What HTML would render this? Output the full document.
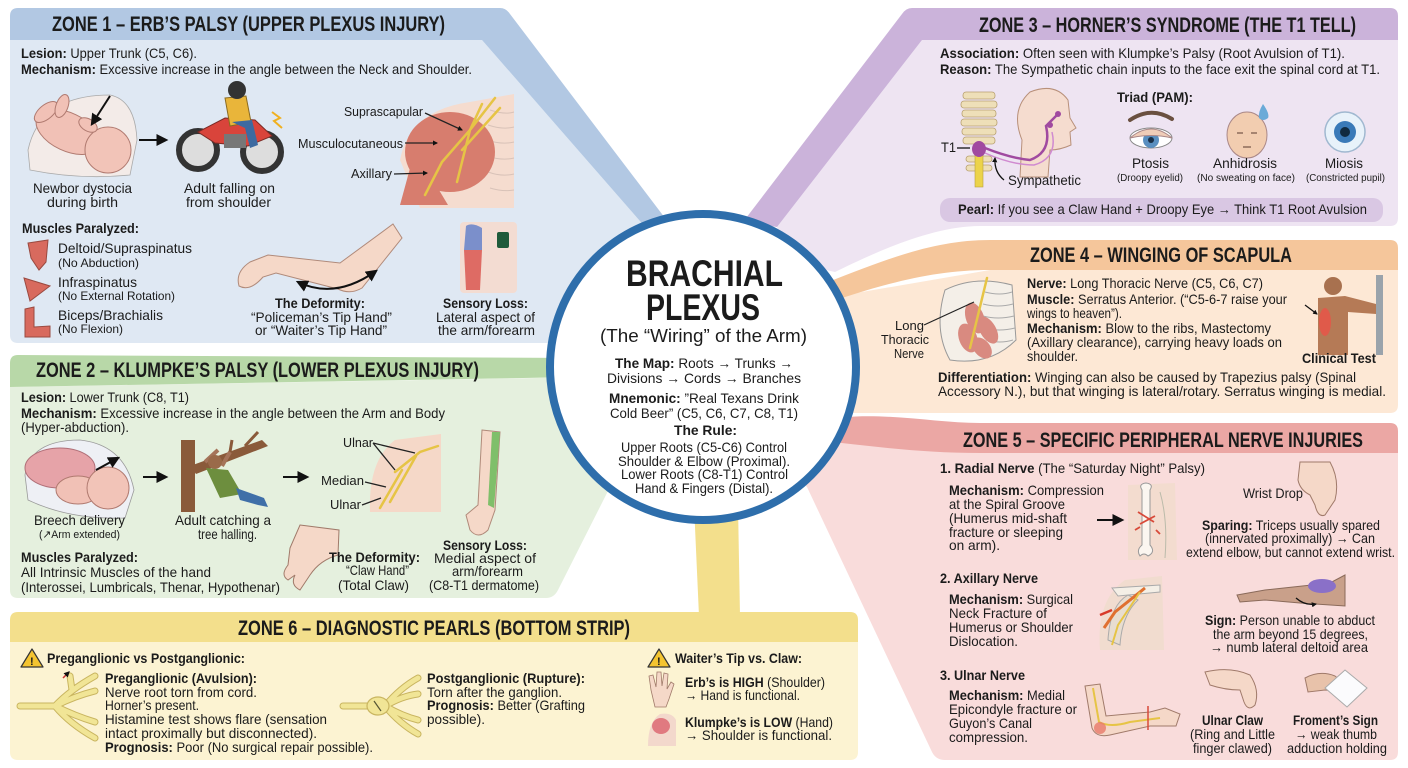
<!DOCTYPE html>
<html><head><meta charset="utf-8"><style>
html,body{margin:0;padding:0;background:#fff;}
svg{display:block}
text{font-family:"Liberation Sans",Arial,sans-serif;fill:#1b1b1b;}
.h{font-size:21px;font-weight:700}
.b{font-size:14px}
.m{font-size:13px}
.s{font-size:12px}
.xs{font-size:10px}
.bd{font-weight:700}
.nv{fill:none;stroke:#e6c445;stroke-width:2.5;stroke-linecap:round}
.ln{fill:none;stroke:#222;stroke-width:1.3}
</style></head><body>
<svg width="1408" height="768" viewBox="0 0 1408 768" xmlns="http://www.w3.org/2000/svg">
<defs>
<marker id="ah" viewBox="0 0 10 10" refX="8" refY="5" markerWidth="6" markerHeight="6" orient="auto-start-reverse"><path d="M0,0 L10,5 L0,10 Z" fill="#111"/></marker>
<marker id="ahs" viewBox="0 0 10 10" refX="8" refY="5" markerWidth="4" markerHeight="4" orient="auto-start-reverse"><path d="M0,0 L10,5 L0,10 Z" fill="#111"/></marker>
</defs>
<rect width="1408" height="768" fill="#fff"/>

<!-- ZONE 1 background -->
<path d="M10,40 L482,40 L646,228 L600,262 L548,343 L18,343 Q10,343 10,335 Z" fill="#dfe8f3"/>
<path d="M18,8 L500,8 Q506,8 510,14 L668,222 L646,228 L482,40 L10,40 L10,16 Q10,8 18,8 Z" fill="#b2c8e3"/>

<!-- ZONE 2 background -->
<path d="M10,387 L600,377 L620,470 L607,493 L558,590 Q554,598 546,598 L18,598 Q10,598 10,590 Z" fill="#e5f0de"/>
<path d="M10,363 Q10,355 18,355 L580,358 L580,377 L10,387 Z" fill="#b8d8a8"/>

<!-- ZONE 3 background -->
<path d="M922,40 L1398,40 L1398,218 Q1398,226 1390,226 L980,226 C930,226 870,255 835,272 L790,262 L777,227 Z" fill="#eee4f2"/>
<path d="M912,8 L1390,8 Q1398,8 1398,16 L1398,40 L922,40 L777,227 L743,222 L902,14 Q906,8 912,8 Z" fill="#cbb3da"/>

<!-- ZONE 4 background -->
<path d="M815,300 L990,270 L1398,270 L1398,405 Q1398,413 1390,413 L850,413 L815,380 Z" fill="#fde8d5"/>
<path d="M815,287 C880,262 930,240 990,240 L1390,240 Q1398,240 1398,248 L1398,270 L990,270 C930,270 880,285 815,307 Z" fill="#f5c69b"/>

<!-- ZONE 5 background -->
<path d="M815,440 L980,453 L1398,453 L1398,752 Q1398,760 1390,760 L945,760 Q936,760 932,752 L807,487 L790,470 Z" fill="#f9dcdb"/>
<path d="M820,420 C880,410 930,423 980,423 L1390,423 Q1398,423 1398,431 L1398,453 L980,453 C920,453 870,446 815,440 Z" fill="#eba7a4"/>

<!-- yellow connector -->
<path d="M694,505 L738,505 L740,616 L699,616 Z" fill="#f3df8c"/>

<!-- ZONE 6 background -->
<path d="M10,642 L858,642 L858,752 Q858,760 850,760 L18,760 Q10,760 10,752 Z" fill="#fcf3d2"/>
<path d="M18,612 L850,612 Q858,612 858,620 L858,642 L10,642 L10,620 Q10,612 18,612 Z" fill="#f3df8c"/>

<!-- center circle -->
<circle cx="703" cy="367" r="153" fill="#fff" stroke="#2e6eab" stroke-width="8"/>

<!-- ============ ZONE 1 content ============ -->
<text class="h" x="52" y="31" textLength="393" lengthAdjust="spacingAndGlyphs">ZONE 1 – ERB’S PALSY (UPPER PLEXUS INJURY)</text>
<text class="b" x="21" y="58" textLength="176" lengthAdjust="spacingAndGlyphs"><tspan class="bd">Lesion:</tspan> Upper Trunk (C5, C6).</text>
<text class="b" x="21" y="74" textLength="451" lengthAdjust="spacingAndGlyphs"><tspan class="bd">Mechanism:</tspan> Excessive increase in the angle between the Neck and Shoulder.</text>

<!-- baby -->
<path d="M28,150 Q40,95 110,95 Q135,100 137,140 L130,175 Q80,180 30,170 Z" fill="#f3ebe8" stroke="#aaa" stroke-width="0.8"/>
<ellipse cx="68" cy="132" rx="34" ry="19" transform="rotate(25 68 132)" fill="#f1c1b6" stroke="#b07a70"/>
<ellipse cx="46" cy="112" rx="14" ry="7" transform="rotate(-40 46 112)" fill="#f1c1b6" stroke="#b07a70"/>
<ellipse cx="62" cy="106" rx="12" ry="6" transform="rotate(-70 62 106)" fill="#f1c1b6" stroke="#b07a70"/>
<circle cx="108" cy="150" r="23" fill="#f2c4b8" stroke="#b07a70"/>
<ellipse cx="88" cy="125" rx="10" ry="6" transform="rotate(30 88 125)" fill="#f1c1b6" stroke="#b07a70"/>
<line x1="110" y1="96" x2="92" y2="124" stroke="#111" stroke-width="2" marker-end="url(#ah)"/>
<line x1="139" y1="140" x2="166" y2="140" stroke="#111" stroke-width="2" marker-end="url(#ah)"/>
<!-- motorcycle -->
<circle cx="198" cy="150" r="19" fill="#ddd" stroke="#333" stroke-width="6"/>
<circle cx="262" cy="152" r="19" fill="#ddd" stroke="#333" stroke-width="6"/>
<path d="M198,132 L225,118 L255,120 L272,136 L248,146 L215,143 Z" fill="#d9443b" stroke="#7a2a25"/>
<rect x="224" y="134" width="22" height="14" fill="#777"/>
<path d="M225,98 L246,96 L251,122 L230,126 Z" fill="#e9b53a" stroke="#8a6a20"/>
<path d="M232,122 L252,120 L258,145 L250,148 L245,128 Z" fill="#3d6aa0"/>
<circle cx="237" cy="90" r="9" fill="#333"/>
<path d="M272,112 L280,118 L274,121 L282,128" fill="none" stroke="#f0b020" stroke-width="2"/>
<text class="b" x="33" y="193" textLength="99" lengthAdjust="spacingAndGlyphs">Newbor dystocia</text>
<text class="b" x="47" y="207" textLength="71" lengthAdjust="spacingAndGlyphs">during birth</text>
<text class="b" x="184" y="193" textLength="91" lengthAdjust="spacingAndGlyphs">Adult falling on</text>
<text class="b" x="186" y="207" textLength="85" lengthAdjust="spacingAndGlyphs">from shoulder</text>
<!-- shoulder anatomy -->
<path d="M420,208 L400,160 Q410,110 470,102 L514,94 L514,208 Z" fill="#f5dccf"/>
<path d="M490,110 Q505,115 514,112 M488,125 Q503,130 514,127 M487,140 Q502,145 514,142 M487,156 Q502,161 514,158 M488,172 Q502,177 514,174 M490,188 Q503,192 514,190" stroke="#d8c2b8" fill="none"/>
<ellipse cx="450" cy="152" rx="45" ry="40" fill="#d77d6e"/>
<path d="M400,205 L415,150 L448,205 Z" fill="#d77d6e"/>
<path class="nv" d="M495,98 L470,130 L442,162 L425,195 M500,108 L462,150 M470,130 L457,182 M482,104 L470,130"/>
<text class="m" x="344" y="116" textLength="79" lengthAdjust="spacingAndGlyphs">Suprascapular</text>
<text class="m" x="298" y="148" textLength="105" lengthAdjust="spacingAndGlyphs">Musculocutaneous</text>
<text class="m" x="351" y="178" textLength="41" lengthAdjust="spacingAndGlyphs">Axillary</text>
<line x1="425" y1="113" x2="462" y2="130" class="ln" marker-end="url(#ahs)"/>
<line x1="405" y1="143" x2="437" y2="143" class="ln" marker-end="url(#ahs)"/>
<line x1="394" y1="174" x2="427" y2="173" class="ln" marker-end="url(#ahs)"/>
<!-- muscles paralyzed -->
<text class="b bd" x="22" y="233" textLength="117" lengthAdjust="spacingAndGlyphs">Muscles Paralyzed:</text>
<path d="M28,243 L48,240 L46,262 L39,270 L31,258 Z" fill="#d86a5e" stroke="#9a4a40"/>
<path d="M24,278 L50,286 L30,301 Z" fill="#d86a5e" stroke="#9a4a40"/>
<path d="M25,309 L34,307 L34,327 L50,326 L50,337 L25,337 Z" fill="#d86a5e" stroke="#9a4a40"/>
<text class="b" x="58" y="253" textLength="134" lengthAdjust="spacingAndGlyphs">Deltoid/Supraspinatus</text>
<text class="s" x="58" y="267" textLength="81" lengthAdjust="spacingAndGlyphs">(No Abduction)</text>
<text class="b" x="58" y="287" textLength="79" lengthAdjust="spacingAndGlyphs">Infraspinatus</text>
<text class="s" x="58" y="300" textLength="117" lengthAdjust="spacingAndGlyphs">(No External Rotation)</text>
<text class="b" x="58" y="320" textLength="105" lengthAdjust="spacingAndGlyphs">Biceps/Brachialis</text>
<text class="s" x="58" y="333" textLength="65" lengthAdjust="spacingAndGlyphs">(No Flexion)</text>
<!-- arm deformity -->
<path d="M393,224 L402,238 L362,288 Q350,295 338,289 L276,273 L263,277 Q250,292 239,286 Q235,272 250,262 L268,255 L340,263 Z" fill="#f5d8c8" stroke="#b08a7a"/>
<path d="M298,282 Q335,300 376,271" fill="none" stroke="#111" stroke-width="2" marker-start="url(#ah)" marker-end="url(#ah)"/>
<text class="b bd" x="275" y="308" textLength="90" lengthAdjust="spacingAndGlyphs">The Deformity:</text>
<text class="b" x="251" y="322" textLength="141" lengthAdjust="spacingAndGlyphs">“Policeman’s Tip Hand”</text>
<text class="b" x="255" y="335" textLength="132" lengthAdjust="spacingAndGlyphs">or “Waiter’s Tip Hand”</text>
<!-- sensory -->
<rect x="460" y="222" width="57" height="71" rx="4" fill="#f3dcd2"/>
<path d="M466,226 Q472,222 482,228 L482,250 L464,250 Z" fill="#7b8fcb"/>
<path d="M464,250 L482,250 L480,290 L466,290 Z" fill="#de6b64"/>
<rect x="497" y="232" width="12" height="16" rx="2" fill="#1e5a3a"/>
<text class="b bd" x="443" y="308" textLength="85" lengthAdjust="spacingAndGlyphs">Sensory Loss:</text>
<text class="b" x="436" y="322" textLength="99" lengthAdjust="spacingAndGlyphs">Lateral aspect of</text>
<text class="b" x="438" y="335" textLength="97" lengthAdjust="spacingAndGlyphs">the arm/forearm</text>

<!-- ============ ZONE 2 content ============ -->
<text class="h" x="36" y="377" textLength="443" lengthAdjust="spacingAndGlyphs">ZONE 2 – KLUMPKE’S PALSY (LOWER PLEXUS INJURY)</text>
<text class="b" x="21" y="402" textLength="168" lengthAdjust="spacingAndGlyphs"><tspan class="bd">Lesion:</tspan> Lower Trunk (C8, T1)</text>
<text class="b" x="21" y="418" textLength="424" lengthAdjust="spacingAndGlyphs"><tspan class="bd">Mechanism:</tspan> Excessive increase in the angle between the Arm and Body</text>
<text class="b" x="21" y="432" textLength="108" lengthAdjust="spacingAndGlyphs">(Hyper-abduction).</text>
<!-- breech baby -->
<path d="M25,475 Q30,440 80,440 Q125,445 134,490 L125,518 Q70,520 28,500 Z" fill="#eef0f5" stroke="#999" stroke-width="0.8"/>
<ellipse cx="60" cy="468" rx="35" ry="20" fill="#e6a3a8" stroke="#b07078"/>
<ellipse cx="78" cy="490" rx="22" ry="14" fill="#f1c1b6" stroke="#b07a70"/>
<circle cx="108" cy="488" r="21" fill="#f2c4b8" stroke="#b07a70"/>
<line x1="96" y1="470" x2="118" y2="458" stroke="#111" stroke-width="2" marker-end="url(#ah)"/>
<line x1="143" y1="477" x2="166" y2="477" stroke="#111" stroke-width="2" marker-end="url(#ah)"/>
<!-- tree -->
<rect x="181" y="440" width="14" height="72" fill="#8a5a3a"/>
<path d="M190,466 L262,440 L268,446 L196,474 Z" fill="#8a5a3a"/>
<path d="M245,446 L258,432 M230,452 L232,440" stroke="#8a5a3a" stroke-width="3"/>
<path d="M205,462 L218,450 M222,466 L230,452" stroke="#a5745a" stroke-width="4"/>
<circle cx="215" cy="462" r="7" fill="#9a6a4a"/>
<path d="M206,468 L228,470 L242,494 L220,498 Z" fill="#6d8e3e"/>
<path d="M236,488 L264,498 L268,507 L258,505 L240,500 Z" fill="#3f6fa8"/>
<line x1="283" y1="477" x2="307" y2="477" stroke="#111" stroke-width="2" marker-end="url(#ah)"/>
<!-- chest -->
<path d="M370,512 Q368,460 395,440 L441,434 L441,512 Z" fill="#f5d8c8"/>
<path class="nv" d="M395,472 L420,452 L438,446 M380,508 L402,470 M390,502 L416,456"/>
<text class="m" x="343" y="447" textLength="30" lengthAdjust="spacingAndGlyphs">Ulnar</text>
<text class="m" x="321" y="485" textLength="43" lengthAdjust="spacingAndGlyphs">Median</text>
<text class="m" x="330" y="509" textLength="31" lengthAdjust="spacingAndGlyphs">Ulnar</text>
<path class="ln" d="M373,443 L395,470 M373,443 L415,453 M365,482 L386,487 M362,505 L381,498"/>
<!-- arm sensory -->
<path d="M482,430 L500,432 L495,510 L488,530 Q478,540 470,530 L466,515 L478,505 Z" fill="#f5d8c8" stroke="#b08a7a"/>
<path d="M492,432 L500,432 L494,508 L488,505 Z" fill="#7fbf6a"/>
<text class="b" x="34" y="525" textLength="91" lengthAdjust="spacingAndGlyphs">Breech delivery</text>
<text x="39" y="538" textLength="81" lengthAdjust="spacingAndGlyphs" style="font-size:11px">(↗Arm extended)</text>
<text class="b" x="175" y="525" textLength="96" lengthAdjust="spacingAndGlyphs">Adult catching a</text>
<text class="b" x="198" y="539" textLength="59" lengthAdjust="spacingAndGlyphs">tree halling.</text>
<!-- claw -->
<path d="M300,525 L339,530 L338,555 Q320,560 310,575 L300,590 Q290,585 295,575 L288,580 Q280,575 288,565 L290,548 Z" fill="#f5d8c8" stroke="#a07a6a"/>
<text class="b bd" x="21" y="562" textLength="117" lengthAdjust="spacingAndGlyphs">Muscles Paralyzed:</text>
<text class="b" x="21" y="577" textLength="190" lengthAdjust="spacingAndGlyphs">All Intrinsic Muscles of the hand</text>
<text class="b" x="21" y="592" textLength="259" lengthAdjust="spacingAndGlyphs">(Interossei, Lumbricals, Thenar, Hypothenar)</text>
<text class="b bd" x="329" y="562" textLength="91" lengthAdjust="spacingAndGlyphs">The Deformity:</text>
<text class="b" x="346" y="575" textLength="63" lengthAdjust="spacingAndGlyphs">“Claw Hand”</text>
<text class="b" x="338" y="590" textLength="71" lengthAdjust="spacingAndGlyphs">(Total Claw)</text>
<text class="b bd" x="443" y="550" textLength="84" lengthAdjust="spacingAndGlyphs">Sensory Loss:</text>
<text class="b" x="434" y="563" textLength="102" lengthAdjust="spacingAndGlyphs">Medial aspect of</text>
<text class="b" x="452" y="576" textLength="71" lengthAdjust="spacingAndGlyphs">arm/forearm</text>
<text class="b" x="429" y="590" textLength="110" lengthAdjust="spacingAndGlyphs">(C8-T1 dermatome)</text>

<!-- ============ CENTER ============ -->
<text x="626" y="286" style="font-size:37px;font-weight:700" textLength="157" lengthAdjust="spacingAndGlyphs">BRACHIAL</text>
<text x="646" y="320" style="font-size:37px;font-weight:700" textLength="114" lengthAdjust="spacingAndGlyphs">PLEXUS</text>
<text x="600" y="342" style="font-size:18px" textLength="207" lengthAdjust="spacingAndGlyphs">(The “Wiring” of the Arm)</text>
<text class="b" x="615" y="368" textLength="178" lengthAdjust="spacingAndGlyphs"><tspan class="bd">The Map:</tspan> Roots → Trunks →</text>
<text class="b" x="607" y="383" textLength="194" lengthAdjust="spacingAndGlyphs">Divisions → Cords → Branches</text>
<text class="b" x="609" y="403" textLength="190" lengthAdjust="spacingAndGlyphs"><tspan class="bd">Mnemonic:</tspan> ”Real Texans Drink</text>
<text class="b" x="610" y="418" textLength="188" lengthAdjust="spacingAndGlyphs">Cold Beer” (C5, C6, C7, C8, T1)</text>
<text class="b bd" x="674" y="435" textLength="63" lengthAdjust="spacingAndGlyphs">The Rule:</text>
<text class="b" x="621" y="452" textLength="166" lengthAdjust="spacingAndGlyphs">Upper Roots (C5-C6) Control</text>
<text class="b" x="618" y="466" textLength="172" lengthAdjust="spacingAndGlyphs">Shoulder &amp; Elbow (Proximal).</text>
<text class="b" x="621" y="479" textLength="167" lengthAdjust="spacingAndGlyphs">Lower Roots (C8-T1) Control</text>
<text class="b" x="635" y="493" textLength="138" lengthAdjust="spacingAndGlyphs">Hand &amp; Fingers (Distal).</text>

<!-- ============ ZONE 3 content ============ -->
<text class="h" x="979" y="32" textLength="377" lengthAdjust="spacingAndGlyphs">ZONE 3 – HORNER’S SYNDROME (THE T1 TELL)</text>
<text class="b" x="940" y="58" textLength="405" lengthAdjust="spacingAndGlyphs"><tspan class="bd">Association:</tspan> Often seen with Klumpke’s Palsy (Root Avulsion of T1).</text>
<text class="b" x="940" y="74" textLength="440" lengthAdjust="spacingAndGlyphs"><tspan class="bd">Reason:</tspan> The Sympathetic chain inputs to the face exit the spinal cord at T1.</text>
<!-- spine -->
<g fill="#eedfb8" stroke="#b8a070" stroke-width="0.8">
<rect x="963" y="92" width="32" height="7" rx="3"/><rect x="961" y="101" width="36" height="7" rx="3"/>
<rect x="962" y="110" width="34" height="7" rx="3"/><rect x="961" y="119" width="36" height="7" rx="3"/>
<rect x="962" y="128" width="34" height="7" rx="3"/><rect x="963" y="137" width="32" height="7" rx="3"/>
<rect x="966" y="156" width="26" height="6" rx="3"/><rect x="966" y="165" width="26" height="6" rx="3"/>
</g>
<rect x="975" y="150" width="8" height="37" fill="#ecd34a" stroke="#b8a040" stroke-width="0.6"/>
<ellipse cx="979" cy="149" rx="7" ry="8" fill="#a04aa0"/>
<path d="M1020,177 L1022,140 Q1010,110 1030,92 Q1055,82 1068,100 L1070,118 L1076,128 L1070,132 L1071,145 Q1060,150 1050,150 L1048,177 Z" fill="#f5dccf" stroke="#b8907a"/>
<path d="M985,148 Q1010,158 1030,160 Q1052,152 1046,126 L1058,114" fill="none" stroke="#a04aa0" stroke-width="2.5"/>
<path d="M985,153 Q1012,165 1034,165 Q1058,158 1052,132" fill="none" stroke="#d08ad0" stroke-width="1.5"/>
<circle cx="1058" cy="114" r="3" fill="#a04aa0"/><circle cx="1050" cy="125" r="3" fill="#a04aa0"/>
<line x1="957" y1="148" x2="970" y2="148" stroke="#111" stroke-width="1.3"/>
<path d="M1004,180 Q994,172 995,158" fill="none" stroke="#111" stroke-width="1.3" marker-end="url(#ahs)"/>
<text class="b" x="941" y="152" textLength="15" lengthAdjust="spacingAndGlyphs">T1</text>
<text class="b" x="1008" y="185" textLength="73" lengthAdjust="spacingAndGlyphs">Sympathetic</text>
<text class="b bd" x="1117" y="102" textLength="76" lengthAdjust="spacingAndGlyphs">Triad (PAM):</text>
<!-- ptosis eye -->
<path d="M1130,120 Q1151,106 1172,119" fill="none" stroke="#6a5040" stroke-width="4" stroke-linecap="round"/>
<ellipse cx="1151" cy="138" rx="21" ry="10" fill="#fff" stroke="#888"/>
<circle cx="1151" cy="140" r="8" fill="#5a8fc0"/>
<circle cx="1151" cy="140" r="3" fill="#1a3048"/>
<path d="M1130,138 Q1151,120 1172,138 Q1151,133 1130,138 Z" fill="#f0cdb8" stroke="#a88"/>
<!-- face -->
<ellipse cx="1247" cy="135" rx="20" ry="23" fill="#f2cdb0" stroke="#a88"/>
<path d="M1237,133 L1243,133 M1251,133 L1257,133 M1243,147 L1251,147" stroke="#7a5a4a" stroke-width="1.3"/>
<path d="M1263,104 Q1270,114 1268,118 Q1263,122 1259,118 Q1258,112 1263,104 Z" fill="#6aaad8"/>
<!-- miosis eye -->
<circle cx="1345" cy="132" r="20" fill="#e8f2fa" stroke="#a0b8d0" stroke-width="1.5"/>
<circle cx="1345" cy="132" r="11" fill="#3a7ab8"/>
<circle cx="1345" cy="132" r="5" fill="#102a40"/>
<text class="b" x="1132" y="168" textLength="37" lengthAdjust="spacingAndGlyphs">Ptosis</text>
<text class="xs" x="1117" y="181" textLength="66" lengthAdjust="spacingAndGlyphs">(Droopy eyelid)</text>
<text class="b" x="1213" y="168" textLength="64" lengthAdjust="spacingAndGlyphs">Anhidrosis</text>
<text class="xs" x="1197" y="181" textLength="98" lengthAdjust="spacingAndGlyphs">(No sweating on face)</text>
<text class="b" x="1325" y="168" textLength="38" lengthAdjust="spacingAndGlyphs">Miosis</text>
<text class="xs" x="1306" y="181" textLength="79" lengthAdjust="spacingAndGlyphs">(Constricted pupil)</text>
<rect x="940" y="198" width="443" height="24" rx="10" fill="#d9c7e3"/>
<text class="b" x="958" y="214" textLength="409" lengthAdjust="spacingAndGlyphs"><tspan class="bd">Pearl:</tspan> If you see a Claw Hand + Droopy Eye → Think T1 Root Avulsion</text>

<!-- ============ ZONE 4 content ============ -->
<text class="h" x="1030" y="262" textLength="262" lengthAdjust="spacingAndGlyphs">ZONE 4 – WINGING OF SCAPULA</text>
<path d="M945,290 Q975,275 1012,285 L1016,340 Q990,366 950,360 Q933,330 945,290 Z" fill="#f4efe8" stroke="#999"/>
<path d="M985,292 Q1000,296 1012,292 M983,304 Q998,308 1013,304 M983,316 Q998,320 1014,316 M984,328 Q999,332 1015,328 M986,340 Q1000,344 1013,340" stroke="#aaa" fill="none"/>
<ellipse cx="975" cy="318" rx="9" ry="16" transform="rotate(-20 975 318)" fill="#d98a80"/>
<ellipse cx="988" cy="330" rx="8" ry="15" transform="rotate(-30 988 330)" fill="#d98a80"/>
<ellipse cx="968" cy="338" rx="9" ry="15" transform="rotate(-20 968 338)" fill="#d98a80"/>
<ellipse cx="982" cy="348" rx="8" ry="12" transform="rotate(-40 982 348)" fill="#d98a80"/>
<path class="nv" d="M987,278 L970,348"/>
<line x1="924" y1="325" x2="974" y2="302" stroke="#222" stroke-width="1.2"/>
<text class="m" x="895" y="330" textLength="29" lengthAdjust="spacingAndGlyphs">Long</text>
<text class="m" x="881" y="344" textLength="48" lengthAdjust="spacingAndGlyphs">Thoracic</text>
<text class="m" x="894" y="358" textLength="30" lengthAdjust="spacingAndGlyphs">Nerve</text>
<text class="b" x="1027" y="288" textLength="236" lengthAdjust="spacingAndGlyphs"><tspan class="bd">Nerve:</tspan> Long Thoracic Nerve (C5, C6, C7)</text>
<text class="b" x="1027" y="304" textLength="260" lengthAdjust="spacingAndGlyphs"><tspan class="bd">Muscle:</tspan> Serratus Anterior. (“C5-6-7 raise your</text>
<text class="b" x="1027" y="318" textLength="95" lengthAdjust="spacingAndGlyphs">wings to heaven”).</text>
<text class="b" x="1027" y="333" textLength="244" lengthAdjust="spacingAndGlyphs"><tspan class="bd">Mechanism:</tspan> Blow to the ribs, Mastectomy</text>
<text class="b" x="1027" y="347" textLength="255" lengthAdjust="spacingAndGlyphs">(Axillary clearance), carrying heavy loads on</text>
<text class="b" x="1027" y="361" textLength="51" lengthAdjust="spacingAndGlyphs">shoulder.</text>
<!-- clinical test -->
<rect x="1376" y="275" width="7" height="80" fill="#9aa3ab"/>
<circle cx="1333" cy="286" r="9" fill="#a8714f"/>
<path d="M1318,298 L1345,296 L1376,304 L1376,314 L1348,312 L1348,355 L1318,355 Z" fill="#b57a56"/>
<ellipse cx="1325" cy="322" rx="6" ry="14" fill="#e05a4a"/>
<line x1="1305" y1="305" x2="1317" y2="314" stroke="#111" stroke-width="1.2" marker-end="url(#ahs)"/>
<text class="b bd" x="1302" y="363" textLength="74" lengthAdjust="spacingAndGlyphs">Clinical Test</text>
<text class="b" x="938" y="382" textLength="418" lengthAdjust="spacingAndGlyphs"><tspan class="bd">Differentiation:</tspan> Winging can also be caused by Trapezius palsy (Spinal</text>
<text class="b" x="938" y="396" textLength="448" lengthAdjust="spacingAndGlyphs">Accessory N.), but that winging is lateral/rotary. Serratus winging is medial.</text>

<!-- ============ ZONE 5 content ============ -->
<text class="h" x="963" y="447" textLength="400" lengthAdjust="spacingAndGlyphs">ZONE 5 – SPECIFIC PERIPHERAL NERVE INJURIES</text>
<text class="b" x="940" y="473" textLength="265" lengthAdjust="spacingAndGlyphs"><tspan class="bd">1. Radial Nerve</tspan> (The “Saturday Night” Palsy)</text>
<text class="b" x="949" y="495" textLength="155" lengthAdjust="spacingAndGlyphs"><tspan class="bd">Mechanism:</tspan> Compression</text>
<text class="b" x="949" y="509" textLength="116" lengthAdjust="spacingAndGlyphs">at the Spiral Groove</text>
<text class="b" x="949" y="523" textLength="118" lengthAdjust="spacingAndGlyphs">(Humerus mid-shaft</text>
<text class="b" x="949" y="537" textLength="114" lengthAdjust="spacingAndGlyphs">fracture or sleeping</text>
<text class="b" x="949" y="550" textLength="51" lengthAdjust="spacingAndGlyphs">on arm).</text>
<line x1="1097" y1="520" x2="1122" y2="520" stroke="#111" stroke-width="2" marker-end="url(#ah)"/>
<path d="M1128,485 L1175,483 L1177,560 L1128,560 Z" fill="#f3dccf"/>
<path d="M1142,490 Q1138,484 1146,483 Q1154,484 1150,490 L1150,545 Q1156,552 1148,556 Q1144,552 1140,556 Q1136,550 1142,545 Z" fill="#fbf6f0" stroke="#999"/>
<path d="M1160,492 Q1168,520 1165,558" fill="none" stroke="#bba" />
<path d="M1138,512 L1154,522 M1140,524 L1155,516 M1135,530 L1140,527 M1156,530 L1160,534" stroke="#d84a3a" stroke-width="1.8"/>
<text class="b" x="1243" y="498" textLength="60" lengthAdjust="spacingAndGlyphs">Wrist Drop</text>
<path d="M1300,462 L1330,462 Q1340,480 1335,500 L1325,515 Q1318,518 1315,505 L1310,495 Q1300,490 1298,480 Z" fill="#f5d8c8" stroke="#a07a6a"/>
<text class="b" x="1202" y="530" textLength="178" lengthAdjust="spacingAndGlyphs"><tspan class="bd">Sparing:</tspan> Triceps usually spared</text>
<text class="b" x="1205" y="543" textLength="170" lengthAdjust="spacingAndGlyphs">(innervated proximally) → Can</text>
<text class="b" x="1186" y="557" textLength="209" lengthAdjust="spacingAndGlyphs">extend elbow, but cannot extend wrist.</text>
<text class="b bd" x="940" y="583" textLength="98" lengthAdjust="spacingAndGlyphs">2. Axillary Nerve</text>
<text class="b" x="949" y="604" textLength="124" lengthAdjust="spacingAndGlyphs"><tspan class="bd">Mechanism:</tspan> Surgical</text>
<text class="b" x="949" y="618" textLength="98" lengthAdjust="spacingAndGlyphs">Neck Fracture of</text>
<text class="b" x="949" y="632" textLength="124" lengthAdjust="spacingAndGlyphs">Humerus or Shoulder</text>
<text class="b" x="949" y="646" textLength="69" lengthAdjust="spacingAndGlyphs">Dislocation.</text>
<path d="M1100,650 Q1096,600 1125,580 L1162,576 L1164,650 Z" fill="#f1dccf"/>
<path d="M1112,588 L1160,585 L1160,592 L1118,596 Z" fill="#f4efe6" stroke="#aaa"/>
<path d="M1108,640 Q1110,605 1128,595 L1138,600 Q1122,615 1120,645 Z" fill="#e8ddd0" stroke="#aaa"/>
<path d="M1145,588 L1115,612 L1104,628" fill="none" stroke="#e07030" stroke-width="3"/>
<path d="M1140,592 L1118,625 L1112,645" fill="none" stroke="#e6c445" stroke-width="2"/>
<path d="M1100,615 L1112,610" stroke="#d83a2a" stroke-width="2.5"/>
<path d="M1237,595 L1265,590 L1330,583 L1345,575 L1345,606 L1300,603 L1265,600 L1240,602 Z" fill="#c9a08a" stroke="#8a6a5a"/>
<ellipse cx="1322" cy="586" rx="14" ry="7" fill="#8a70c8"/>
<path d="M1296,598 Q1305,606 1316,604" fill="none" stroke="#111" stroke-width="1.3" marker-end="url(#ahs)"/>
<text class="b" x="1205" y="625" textLength="170" lengthAdjust="spacingAndGlyphs"><tspan class="bd">Sign:</tspan> Person unable to abduct</text>
<text class="b" x="1213" y="639" textLength="155" lengthAdjust="spacingAndGlyphs">the arm beyond 15 degrees,</text>
<text class="b" x="1210" y="652" textLength="158" lengthAdjust="spacingAndGlyphs">→ numb lateral deltoid area</text>
<text class="b bd" x="940" y="680" textLength="85" lengthAdjust="spacingAndGlyphs">3. Ulnar Nerve</text>
<text class="b" x="949" y="700" textLength="116" lengthAdjust="spacingAndGlyphs"><tspan class="bd">Mechanism:</tspan> Medial</text>
<text class="b" x="949" y="714" textLength="128" lengthAdjust="spacingAndGlyphs">Epicondyle fracture or</text>
<text class="b" x="949" y="728" textLength="83" lengthAdjust="spacingAndGlyphs">Guyon’s Canal</text>
<text class="b" x="949" y="742" textLength="79" lengthAdjust="spacingAndGlyphs">compression.</text>
<path d="M1085,686 L1100,684 L1106,716 L1150,712 L1165,708 L1180,714 L1176,726 L1150,726 L1110,735 Q1096,738 1092,728 Z" fill="#f5d8c8" stroke="#a07a6a"/>
<path d="M1093,688 L1099,722 Q1110,728 1130,722 L1160,718" fill="none" stroke="#e6c445" stroke-width="2"/>
<circle cx="1100" cy="728" r="6" fill="#e87a6a" opacity="0.8"/>
<path d="M1148,706 L1148,730" stroke="#d84a3a" stroke-width="1.5"/>
<path d="M1205,672 Q1230,666 1250,675 Q1260,690 1255,705 Q1248,712 1244,702 L1240,690 Q1225,690 1210,685 Z" fill="#f5d8c8" stroke="#a07a6a"/>
<path d="M1305,678 Q1320,670 1335,676 L1345,684 Q1338,692 1325,690 L1308,692 Z" fill="#e8c2aa" stroke="#a07a6a"/>
<path d="M1345,670 L1367,688 L1347,707 L1325,688 Z" fill="#fbfbfd" stroke="#aaa"/>
<text class="b bd" x="1202" y="725" textLength="61" lengthAdjust="spacingAndGlyphs">Ulnar Claw</text>
<text class="b" x="1190" y="739" textLength="85" lengthAdjust="spacingAndGlyphs">(Ring and Little</text>
<text class="b" x="1193" y="753" textLength="79" lengthAdjust="spacingAndGlyphs">finger clawed)</text>
<text class="b bd" x="1293" y="725" textLength="85" lengthAdjust="spacingAndGlyphs">Froment’s Sign</text>
<text class="b" x="1295" y="739" textLength="82" lengthAdjust="spacingAndGlyphs">→ weak thumb</text>
<text class="b" x="1287" y="753" textLength="100" lengthAdjust="spacingAndGlyphs">adduction holding</text>

<!-- ============ ZONE 6 content ============ -->
<text class="h" x="238" y="635" textLength="392" lengthAdjust="spacingAndGlyphs">ZONE 6 – DIAGNOSTIC PEARLS (BOTTOM STRIP)</text>
<path d="M32,649 L43,667 L21,667 Z" fill="#f4c430" stroke="#333" stroke-width="1.2" stroke-linejoin="round"/>
<text x="30" y="665" style="font-size:11px;font-weight:700">!</text>
<text class="b bd" x="47" y="663" textLength="198" lengthAdjust="spacingAndGlyphs">Preganglionic vs Postganglionic:</text>
<g fill="none" stroke-linecap="round">
<path d="M20,706 L55,706 M55,706 Q70,690 95,676 M55,706 Q75,696 95,691 M55,706 Q75,716 95,722 M55,706 Q70,724 95,738 M72,690 L70,676" stroke="#c9b560" stroke-width="7"/>
<path d="M20,706 L55,706 M55,706 Q70,690 95,676 M55,706 Q75,696 95,691 M55,706 Q75,716 95,722 M55,706 Q70,724 95,738 M72,690 L70,676" stroke="#f1e596" stroke-width="5"/>
</g>
<line x1="63" y1="678" x2="69" y2="672" stroke="#c83030" stroke-width="1.5" marker-end="url(#ahs)"/>
<text class="b bd" x="105" y="683" textLength="152" lengthAdjust="spacingAndGlyphs">Preganglionic (Avulsion):</text>
<text class="b" x="105" y="697" textLength="152" lengthAdjust="spacingAndGlyphs">Nerve root torn from cord.</text>
<text class="b" x="105" y="710" textLength="94" lengthAdjust="spacingAndGlyphs">Horner’s present.</text>
<text class="b" x="105" y="724" textLength="222" lengthAdjust="spacingAndGlyphs">Histamine test shows flare (sensation</text>
<text class="b" x="105" y="738" textLength="212" lengthAdjust="spacingAndGlyphs">intact proximally but disconnected).</text>
<text class="b" x="105" y="752" textLength="268" lengthAdjust="spacingAndGlyphs"><tspan class="bd">Prognosis:</tspan> Poor (No surgical repair possible).</text>
<g fill="none" stroke-linecap="round">
<path d="M343,706 L372,706 M385,706 Q400,688 418,678 M385,706 Q402,696 418,694 M385,706 Q402,716 418,720 M385,706 Q400,724 418,734" stroke="#c9b560" stroke-width="7"/>
<path d="M343,706 L372,706 M385,706 Q400,688 418,678 M385,706 Q402,696 418,694 M385,706 Q402,716 418,720 M385,706 Q400,724 418,734" stroke="#f1e596" stroke-width="5"/>
</g>
<ellipse cx="378" cy="706" rx="11" ry="9" fill="#f1e596" stroke="#c9b560" stroke-width="1.2"/>
<path d="M374,701 L381,711" stroke="#553" stroke-width="1.2"/>
<text class="b bd" x="427" y="683" textLength="158" lengthAdjust="spacingAndGlyphs">Postganglionic (Rupture):</text>
<text class="b" x="427" y="697" textLength="135" lengthAdjust="spacingAndGlyphs">Torn after the ganglion.</text>
<text class="b" x="427" y="710" textLength="158" lengthAdjust="spacingAndGlyphs"><tspan class="bd">Prognosis:</tspan> Better (Grafting</text>
<text class="b" x="427" y="724" textLength="58" lengthAdjust="spacingAndGlyphs">possible).</text>
<path d="M659,649 L670,667 L648,667 Z" fill="#f4c430" stroke="#333" stroke-width="1.2" stroke-linejoin="round"/>
<text x="657" y="665" style="font-size:11px;font-weight:700">!</text>
<text class="b bd" x="675" y="663" textLength="127" lengthAdjust="spacingAndGlyphs">Waiter’s Tip vs. Claw:</text>
<path d="M651,690 L649,676 L653,675 L656,687 L657,672 L661,672 L662,686 L664,673 L668,674 L667,689 L671,682 L674,684 L669,699 L666,707 L655,707 Z" fill="#f5d8c8" stroke="#a07a6a" stroke-width="0.8"/>
<path d="M648,746 Q648,722 660,714 Q672,712 676,720 L676,746 Z" fill="#f3d8cc"/>
<ellipse cx="661" cy="726" rx="9" ry="8" fill="#e07a80"/>
<text class="b" x="685" y="687" textLength="140" lengthAdjust="spacingAndGlyphs"><tspan class="bd">Erb’s is HIGH</tspan> (Shoulder)</text>
<text class="b" x="685" y="700" textLength="115" lengthAdjust="spacingAndGlyphs">→ Hand is functional.</text>
<text class="b" x="685" y="727" textLength="148" lengthAdjust="spacingAndGlyphs"><tspan class="bd">Klumpke’s is LOW</tspan> (Hand)</text>
<text class="b" x="685" y="740" textLength="147" lengthAdjust="spacingAndGlyphs">→ Shoulder is functional.</text>
</svg>
</body></html>
